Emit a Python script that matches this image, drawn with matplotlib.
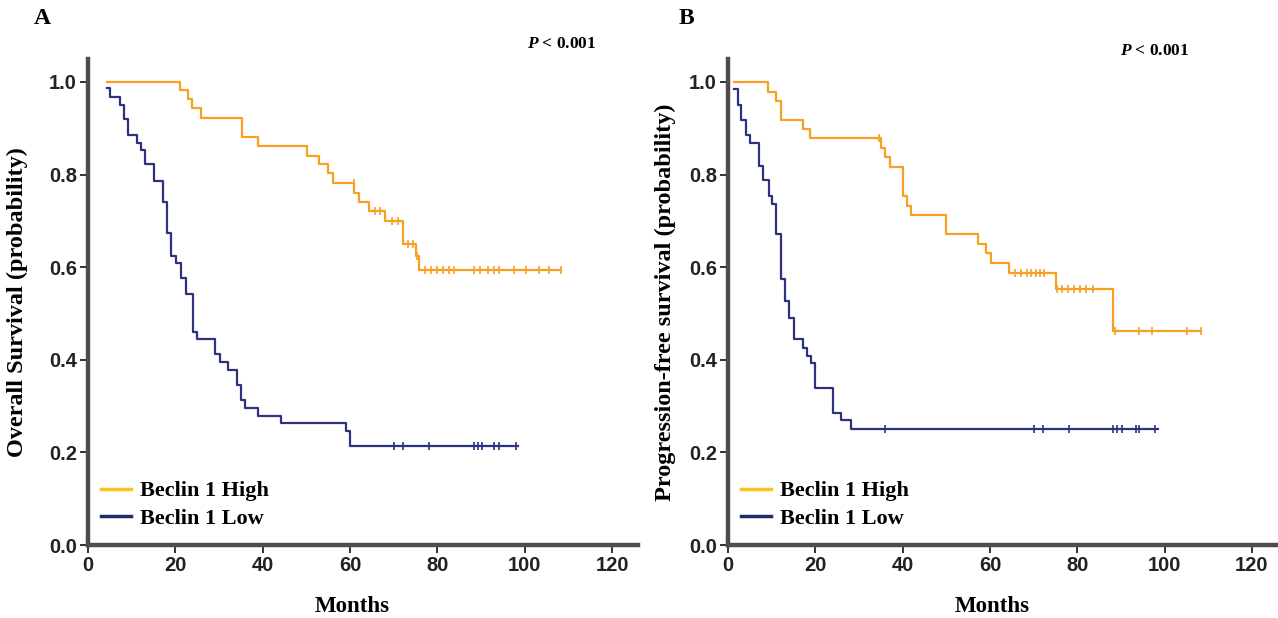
import numpy as np
import matplotlib
matplotlib.use("Agg")
import matplotlib.pyplot as plt
from matplotlib.lines import Line2D

# ---- data ----
# Panel A: overall survival
a_high_start = (4.3, 1.0)
a_high_t = [21, 23, 23.8, 25.9, 35.2, 39, 50.2, 53, 54.9, 56, 61, 62, 64.3, 67.9, 72.2, 75, 75.8]
a_high_s = [0.983, 0.963, 0.943, 0.923, 0.882, 0.862, 0.841, 0.822, 0.803, 0.781, 0.761, 0.741,
            0.721, 0.700, 0.651, 0.624, 0.594]
a_high_end = 108.4
a_high_cens = [60.8, 65.8, 66.8, 69.6, 71, 73.3, 74.4, 75.3, 77.1, 78.5, 79.9, 81.3, 82.7, 83.8,
               88.5, 89.7, 91.5, 92.9, 94, 97.6, 100.4, 103.2, 105.5, 108.4]

a_low_start = (4.3, 0.986)
a_low_t = [5.1, 7.4, 8.2, 9.2, 11.2, 12.1, 13, 15.2, 17.2, 18, 18.9, 20.2, 21.2, 22.4, 24, 24.9,
           29.1, 30.3, 32, 34, 35, 35.9, 39, 44.2, 59.1, 60]
a_low_s = [0.968, 0.950, 0.920, 0.886, 0.869, 0.853, 0.822, 0.787, 0.740, 0.673, 0.624, 0.608,
           0.576, 0.541, 0.461, 0.444, 0.412, 0.395, 0.378, 0.346, 0.313, 0.297, 0.279, 0.263,
           0.246, 0.214]
a_low_end = 98.4
a_low_cens = [70.1, 72.2, 78, 88.3, 89.2, 90.2, 92.9, 94.1, 97.9]

# Panel B: progression-free survival
b_high_start = (1.35, 1.0)
b_high_t = [9.1, 11, 12.1, 17.2, 18.9, 35, 35.9, 37, 40.1, 41.1, 42, 49.9, 57.2, 59.1, 60.2,
            64.3, 75.1, 88.2]
b_high_s = [0.978, 0.958, 0.918, 0.898, 0.879, 0.857, 0.837, 0.817, 0.754, 0.732, 0.712, 0.671,
            0.649, 0.630, 0.610, 0.587, 0.553, 0.462]
b_high_end = 108.3
b_high_cens = [34.6, 65.8, 67.2, 68.6, 69.5, 70.5, 71.4, 72.3, 75.3, 76.5, 77.9, 79.3, 80.7,
               82.1, 83.5, 88.7, 94.1, 97.1, 105.1, 108.3]

b_low_start = (1.35, 0.985)
b_low_t = [2.3, 3, 4.1, 5.1, 7, 8.1, 9.3, 10.2, 11, 12.1, 13, 14, 15.2, 17.2, 18.2, 19.1, 20,
           24, 25.9, 28.2]
b_low_s = [0.950, 0.918, 0.885, 0.868, 0.819, 0.788, 0.754, 0.736, 0.671, 0.574, 0.527, 0.491,
           0.444, 0.426, 0.409, 0.393, 0.339, 0.285, 0.269, 0.250]
b_low_end = 98.4
b_low_cens = [35.9, 70, 72.2, 78, 88.2, 89.2, 90.2, 93.5, 94.1, 97.9]

xticks = [0, 20, 40, 60, 80, 100, 120]
yticks = [0.0, 0.2, 0.4, 0.6, 0.8, 1.0]

HIGH = "#F8A024"
LOW = "#2E3182"
HIGH_LEG = "#FFC21A"
LOW_LEG = "#1C2C6C"
SERIF = ["Liberation Serif", "DejaVu Serif"]
SANS = ["Liberation Sans", "DejaVu Sans"]

plt.rcParams["mathtext.fontset"] = "custom"
plt.rcParams["mathtext.it"] = "Liberation Serif:italic:bold"
plt.rcParams["mathtext.rm"] = "Liberation Serif:bold"


def km(ax, start, t, s, end, cens, color):
    x = np.array([start[0]] + list(t) + [end])
    y = np.array([start[1]] + list(s) + [s[-1]])
    ax.step(x, y, where="post", color=color, lw=1.6, zorder=3)
    # censor ticks sit on the curve
    idx = np.searchsorted(x, cens, side="right") - 1
    ax.plot(cens, y[idx], ls="none", marker="|", ms=6, mew=1.2, color=color, zorder=4)


def style(ax, ylabel, ylab_x):
    ax.set_xlim(0, 126)
    ax.set_ylim(0, 1.05)
    for sp in ["top", "right"]:
        ax.spines[sp].set_visible(False)
    for sp in ["left", "bottom"]:
        ax.spines[sp].set_linewidth(3.2)
        ax.spines[sp].set_color("#4d4d4d")
    ax.set_xticks(xticks)
    ax.set_yticks(yticks)
    ax.set_yticklabels([f"{v:.1f}" for v in yticks])
    ax.tick_params(length=6, width=1.4, color="#333333", pad=2)
    for lab in ax.get_xticklabels() + ax.get_yticklabels():
        lab.set_fontfamily(SANS)
        lab.set_fontweight("bold")
        lab.set_fontsize(14.5)
        lab.set_color("#222222")
    ax.set_xlabel("Months", family=SERIF, fontweight="bold", fontsize=16.5)
    ax.xaxis.set_label_coords(0.48, -0.105)
    ax.set_ylabel(ylabel, family=SERIF, fontweight="bold", fontsize=17.5)
    ax.yaxis.set_label_coords(ylab_x, 0.5)
    handles = [Line2D([], [], color=HIGH_LEG, lw=2.5), Line2D([], [], color=LOW_LEG, lw=2.5)]
    ax.legend(handles, ["Beclin 1 High", "Beclin 1 Low"], loc="lower left",
              bbox_to_anchor=(-0.012, -0.008), frameon=False, handlelength=1.35,
              handletextpad=0.4, labelspacing=0.32,
              prop={"family": SERIF, "weight": "bold", "size": 16})


fig = plt.figure(figsize=(12.78, 6.18), dpi=100)
axA = fig.add_axes([0.0689, 0.118, 0.4305, 0.787])
axB = fig.add_axes([0.5696, 0.118, 0.4305, 0.787])

km(axA, a_high_start, a_high_t, a_high_s, a_high_end, a_high_cens, HIGH)
km(axA, a_low_start, a_low_t, a_low_s, a_low_end, a_low_cens, LOW)
km(axB, b_high_start, b_high_t, b_high_s, b_high_end, b_high_cens, HIGH)
km(axB, b_low_start, b_low_t, b_low_s, b_low_end, b_low_cens, LOW)

style(axA, "Overall Survival (probability)", -0.11)
style(axB, "Progression-free survival (probability)", -0.095)

fig.text(42 / 1278, 1 - 19 / 618, "A", family=SERIF, fontweight="bold", fontsize=17,
         ha="center", va="center")
fig.text(686 / 1278, 1 - 19 / 618, "B", family=SERIF, fontweight="bold", fontsize=17,
         ha="center", va="center")
fig.text(562 / 1278, 1 - 44 / 618, r"$\it{P}$ < 0.001", family=SERIF, fontweight="bold",
         fontsize=12.5, ha="center", va="center")
fig.text(1155 / 1278, 1 - 51 / 618, r"$\it{P}$ < 0.001", family=SERIF, fontweight="bold",
         fontsize=12.5, ha="center", va="center")

fig.savefig("out.png", dpi=100)
